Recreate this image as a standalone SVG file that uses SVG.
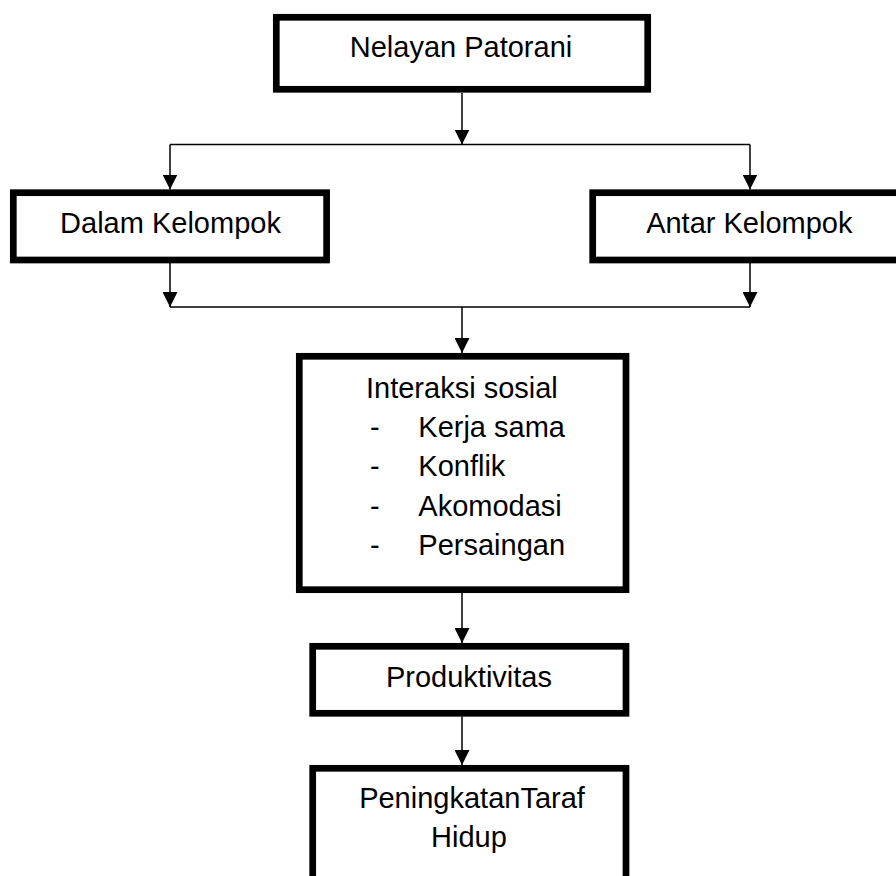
<svg xmlns="http://www.w3.org/2000/svg" width="896" height="876" viewBox="0 0 896 876">
<style>
.box{fill:#fff;stroke:#000;stroke-width:6.7}
.t{font-family:"Liberation Sans",Arial,sans-serif;font-size:29px;fill:#000}
.c{text-anchor:middle}
.ln{fill:none;stroke:#000;stroke-width:1.5}
</style>
<defs>
<marker id="ah" markerUnits="userSpaceOnUse" markerWidth="16" markerHeight="15" viewBox="0 0 16 15" refX="15" refY="7.5" orient="auto">
<path d="M0,0 L15,7.5 L0,15 Z" fill="#000"/>
</marker>
</defs>
<rect width="896" height="876" fill="#fff"/>
<g id="connectors">
<line class="ln" x1="462" y1="93" x2="462" y2="144.5" marker-end="url(#ah)"/>
<line class="ln" x1="170" y1="144.5" x2="750" y2="144.5"/>
<line class="ln" x1="170" y1="144.5" x2="170" y2="189.5" marker-end="url(#ah)"/>
<line class="ln" x1="750" y1="144.5" x2="750" y2="189.5" marker-end="url(#ah)"/>
<line class="ln" x1="170" y1="263" x2="170" y2="307" marker-end="url(#ah)"/>
<line class="ln" x1="750" y1="263" x2="750" y2="307" marker-end="url(#ah)"/>
<line class="ln" x1="170" y1="307" x2="750" y2="307"/>
<line class="ln" x1="462" y1="307" x2="462" y2="353" marker-end="url(#ah)"/>
<line class="ln" x1="462" y1="593" x2="462" y2="643" marker-end="url(#ah)"/>
<line class="ln" x1="462" y1="716.5" x2="462" y2="765" marker-end="url(#ah)"/>
</g>
<g id="nelayan">
<rect class="box" x="276.3" y="17.3" width="371.4" height="72"/>
<text class="t c" x="461" y="57.3">Nelayan Patorani</text>
</g>
<g id="dalam">
<rect class="box" x="13.3" y="192.7" width="313.3" height="67.3"/>
<text class="t c" x="170.5" y="233.3">Dalam Kelompok</text>
</g>
<g id="antar">
<rect class="box" x="592.7" y="192.7" width="320" height="67.3"/>
<text class="t c" x="749.3" y="233.3">Antar Kelompok</text>
</g>
<g id="interaksi">
<rect class="box" x="299.3" y="356.3" width="326.7" height="233.4"/>
<text class="t" x="366" y="397.5">Interaksi sosial</text>
<text class="t" x="370" y="436.5">-</text><text class="t" x="418.3" y="436.5">Kerja sama</text>
<text class="t" x="370" y="476">-</text><text class="t" x="418.3" y="476">Konflik</text>
<text class="t" x="370" y="515.5">-</text><text class="t" x="418.3" y="515.5">Akomodasi</text>
<text class="t" x="370" y="555">-</text><text class="t" x="418.3" y="555">Persaingan</text>
</g>
<g id="produktivitas">
<rect class="box" x="312.7" y="646.3" width="313.3" height="67"/>
<text class="t c" x="469" y="687">Produktivitas</text>
</g>
<g id="peningkatan">
<rect class="box" x="312.7" y="768.3" width="313.3" height="140"/>
<text class="t c" x="472" y="808">PeningkatanTaraf</text>
<text class="t c" x="469" y="847">Hidup</text>
</g>
</svg>
